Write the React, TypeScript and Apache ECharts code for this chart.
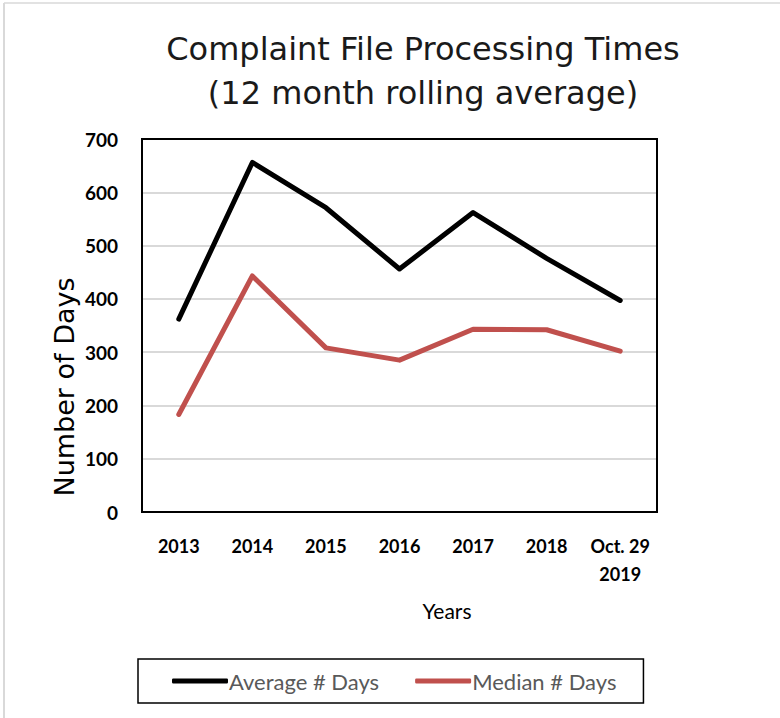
import React, { useEffect, useRef } from "react";
import * as echarts from "echarts";

const categories = ["2013", "2014", "2015", "2016", "2017", "2018", "Oct. 29\n2019"];
const averageDays = [362, 656, 571, 456, 562, 476, 397];
const medianDays = [183, 443, 308, 285, 343, 342, 302];
const yTicks = [0, 100, 200, 300, 400, 500, 600, 700];

export default function App() {
  const ref = useRef<HTMLDivElement>(null);
  useEffect(() => {
    if (!ref.current) return;
    const chart = echarts.init(ref.current, null, { renderer: "svg" });
    chart.setOption({
      animation: false,
      backgroundColor: "#ffffff",
      title: {
        text: "Complaint File Processing Times\n(12 month rolling average)",
        left: 418,
        textAlign: "center",
        top: 22,
        textStyle: {
          fontFamily: "DejaVu Sans",
          fontWeight: "normal",
          fontSize: 32,
          lineHeight: 44,
          color: "#1a1a1a",
        },
      },
      grid: { left: 142, right: 123, top: 139, bottom: 206, containLabel: false },
      xAxis: {
        type: "category",
        data: categories,
        boundaryGap: true,
        axisLine: { show: false },
        axisTick: { show: false },
        axisLabel: {
          interval: 0,
          fontFamily: "Lato",
          fontWeight: "bold",
          fontSize: 18,
          color: "#000",
          margin: 20,
          lineHeight: 28,
        },
      },
      yAxis: {
        type: "value",
        min: 0,
        max: 700,
        interval: 100,
        axisLine: { show: false },
        axisTick: { show: false },
        splitLine: { showMinLine: false, showMaxLine: false, lineStyle: { color: "#d9d9d9", width: 2 } },
        axisLabel: {
          fontFamily: "Lato",
          fontWeight: "bold",
          fontSize: 19,
          color: "#000",
          margin: 24,
          formatter: (v: number) => (yTicks.includes(v) ? String(v) : ""),
        },
      },
      legend: {
        left: 138,
        top: 659,
        itemWidth: 56,
        itemHeight: 5,
        itemGap: 36,
        padding: [11, 27, 11, 34],
        borderColor: "#000",
        borderWidth: 1.5,
        icon: "roundRect",
        textStyle: { fontFamily: "Lato", fontSize: 22, color: "#595959", padding: [0, 0, 0, -4] },
        data: ["Average # Days", "Median # Days"],
      },
      graphic: [
        { type: "line", shape: { x1: 4, y1: 3, x2: 4, y2: 718 }, style: { stroke: "#d9d9d9", lineWidth: 2 } },
        { type: "line", shape: { x1: 4, y1: 3, x2: 780, y2: 3 }, style: { stroke: "#d9d9d9", lineWidth: 1.5 } },
        { type: "rect", z: 100, shape: { x: 142, y: 139, width: 515, height: 373 }, style: { fill: "none", stroke: "#000", lineWidth: 2 } },
        {
          type: "text",
          x: 64,
          y: 387,
          rotation: Math.PI / 2,
          style: { text: "Number of Days", fontFamily: "DejaVu Sans", fontSize: 27, fill: "#000", textAlign: "center", textVerticalAlign: "middle" },
        },
        {
          type: "text",
          x: 447,
          y: 610,
          style: { text: "Years", fontFamily: "Lato", fontSize: 21, fill: "#000", textAlign: "center", textVerticalAlign: "middle" },
        },
      ],
      series: [
        {
          name: "Average # Days",
          type: "line",
          data: averageDays,
          symbol: "none",
          lineStyle: { color: "#000000", width: 5, cap: "round", join: "round" },
          itemStyle: { color: "#000000" },
        },
        {
          name: "Median # Days",
          type: "line",
          data: medianDays,
          symbol: "none",
          lineStyle: { color: "#c0504d", width: 5, cap: "round", join: "round" },
          itemStyle: { color: "#c0504d" },
        },
      ],
    });
    return () => chart.dispose();
  }, []);
  return <div ref={ref} style={{ position: "fixed", left: 0, top: 0, width: 780, height: 718 }} />;
}
